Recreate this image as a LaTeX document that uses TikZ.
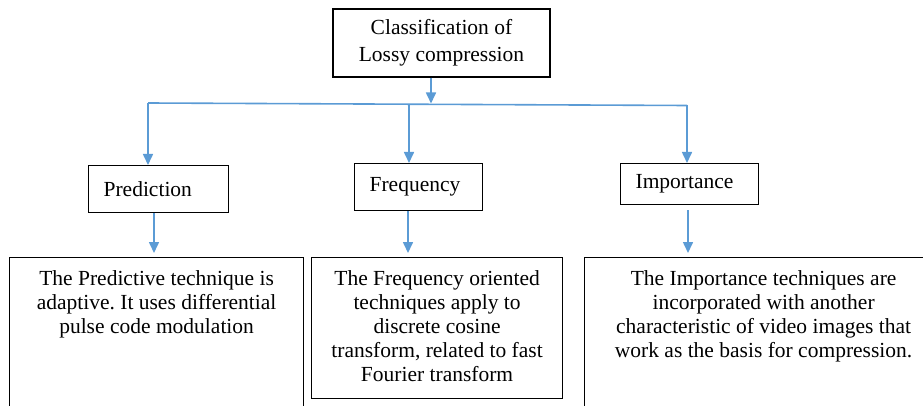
\documentclass[tikz,border=0pt]{standalone}
\usepackage{fontspec}
\setmainfont{Liberation Serif}
\usetikzlibrary{arrows.meta}
\definecolor{linkblue}{RGB}{91,155,213}
\frenchspacing
\tikzset{
  box/.style={draw=black, line width=1.2pt, fill=white, rectangle, inner sep=0pt},
  bodyfont/.style={font=\fontsize{21.5}{24}\selectfont},
  link/.style={draw=linkblue, line width=1.6pt},
  arr/.style={link, -{Triangle[width=10pt,length=11pt]}},
  smallbox/.style={box, bodyfont, anchor=north west, inner xsep=15pt, align=left, minimum height=#1},
  textbox/.style={box, bodyfont, anchor=north west, inner xsep=0pt, inner ysep=13pt}
}
\begin{document}
\begin{tikzpicture}[x=1pt, y=-1pt]
  \useasboundingbox (0,0) rectangle (923,406);
  \clip (0,0) rectangle (923,406);

  % root
  \node[box, font=\fontsize{21.5}{27}\selectfont, align=center,
        minimum width=217pt, minimum height=68pt] (root) at (441.5,43)
        {Classification of\\Lossy compression};

  % categories
  \node[smallbox=47pt, text width=110pt] (pred) at (88,165) {Prediction};
  \node[smallbox=47pt, text width=98pt]  (freq) at (354,163) {Frequency};
  \node[smallbox=41pt, text width=108pt] (imp)  at (620,163) {Importance};

  % descriptions
  \node[textbox] (dP) at (9,257)
    {\parbox[t][138pt][t]{294pt}{\centering The Predictive technique is\\
      adaptive. It uses differential\\ pulse code modulation}};
  \node[textbox] (dF) at (311,257)
    {\parbox[t][115pt][t]{251pt}{\centering The Frequency oriented\\
      techniques apply to\\ discrete cosine\\ transform, related to fast\\
      Fourier transform}};
  \node[textbox] (dI) at (584,257)
    {\parbox[t][138pt][t]{358pt}{\centering The Importance techniques are\\
      incorporated with another\\ characteristic of video images that\\
      work as the basis for compression.}};

  % branching
  \coordinate (jT) at (431,103.5);
  \coordinate (jL) at (148,103);
  \coordinate (jM) at (409,104.2);
  \coordinate (jR) at (687,105.5);
  \draw[arr] (root.south -| jT) -- (jT);
  \draw[link] (jL) -- (jR);
  \draw[arr] (jL) -- (jL |- pred.north);
  \draw[arr] (jM) -- (jM |- freq.north);
  \draw[arr] (jR) -- (jR |- imp.north);

  % category to description
  \coordinate (xP) at (154,0);
  \coordinate (xF) at (408,0);
  \coordinate (xI) at (688,0);
  \draw[arr, shorten >=4pt] (pred.south -| xP) -- (dP.north -| xP);
  \draw[arr, shorten >=4pt] (freq.south -| xF) -- (dF.north -| xF);
  \draw[arr, shorten <=5pt, shorten >=4pt] (imp.south -| xI) -- (dI.north -| xI);
\end{tikzpicture}
\end{document}
